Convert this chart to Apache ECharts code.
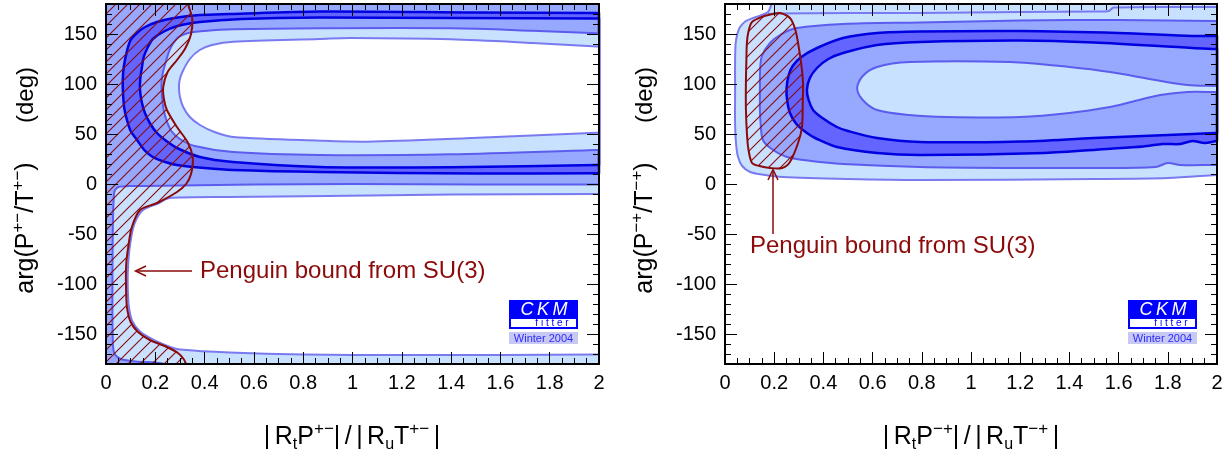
<!DOCTYPE html>
<html><head><meta charset="utf-8"><title>CKMfitter penguin bound</title>
<script src="https://cdn.jsdelivr.net/npm/echarts@6/dist/echarts.min.js"></script>
<style>html,body{margin:0;padding:0;background:#fff;}#chart{width:1226px;height:457px;}</style>
</head><body><div id="chart"></div>
<script>
// ---------------- data ----------------
const xMin = 0, xMax = 2, xStep = 0.2;
const yTickCats = ['-180','-170','-160','-150','-140','-130','-120','-110','-100','-90','-80','-70','-60','-50','-40','-30','-20','-10','0','10','20','30','40','50','60','70','80','90','100','110','120','130','140','150','160','170','180'];
const yLabeled = ['-150','-100','-50','0','50','100','150'];

// Left panel (P+-/T+-): nested confidence-level contours [x, deg]
const leftFull = [[0,180],[2,180],[2,-180],[0,-180]];
const leftWhiteLower = [[2,-10],[1.4,-10.5],[0.9,-12],[0.5,-13],[0.3,-13.5],[0.25,-14.5],[0.215,-19],[0.15,-26],[0.115,-40],[0.098,-60],[0.09,-80],[0.088,-100],[0.093,-123],[0.108,-138],[0.14,-148],[0.18,-154],[0.22,-159],[0.26,-163],[0.3,-165.5],[0.5,-168.5],[0.8,-170.5],[1.2,-171],[1.6,-171],[2,-170.5]];
const leftMedOuter = [[0,180],[2,180],[2,-0.5],[1.5,-0.5],[1.0,0],[0.6,-0.5],[0.3,-1.5],[0.1,-2],[0.05,-3],[0.035,-7],[0.03,-20],[0.027,-60],[0.026,-120],[0.028,-160],[0.035,-170],[0.06,-175],[0.12,-177.5],[0.2,-178.5],[0.24,-180],[0,-180]];
const leftDarkOuter = [[2,171],[1.5,171.5],[0.868,172.5],[0.5,170],[0.381,169],[0.29,166.5],[0.207,162],[0.155,156.5],[0.126,151],[0.1,144],[0.085,133],[0.072,117],[0.068,104],[0.069,91],[0.074,76],[0.085,64],[0.1,53],[0.126,44],[0.155,34],[0.19,27],[0.24,22],[0.288,19],[0.4,16],[0.515,14],[0.868,12],[1.5,10.5],[2,10.7]];
const leftDarkInner = [[2,165.5],[1.4,166],[0.868,166.5],[0.55,165],[0.381,162],[0.29,158],[0.231,152],[0.19,145],[0.17,137],[0.153,127],[0.146,117],[0.139,105],[0.138,94],[0.145,82],[0.158,71],[0.18,60],[0.207,51],[0.245,43],[0.288,36],[0.381,27],[0.515,22],[0.868,17],[1.4,16.7],[2,19]];
const leftMedInner = [[2,150.7],[1.73,153.3],[1.4,155.7],[0.868,155.7],[0.515,154.7],[0.4,153],[0.33,150.7],[0.29,146],[0.26,135],[0.24,120],[0.228,108],[0.225,97],[0.228,85],[0.234,74],[0.245,64],[0.265,53],[0.3,45],[0.36,38],[0.515,32],[0.868,29],[1.4,29.7],[2,34]];
const leftHole = [[2,137.3],[1.73,141],[1.4,144.7],[0.99,146],[0.868,145],[0.517,142.3],[0.43,139],[0.38,134],[0.34,125],[0.308,111],[0.298,103],[0.296,96],[0.3,87],[0.313,77],[0.34,67],[0.381,59],[0.44,52],[0.517,47],[0.868,43.3],[1.06,42.3],[1.46,45.7],[2,51.3]];
const leftPenguin = [[0,180],[0.333,180],[0.35,165],[0.345,150],[0.32,135],[0.288,124],[0.25,112],[0.232,97],[0.235,85],[0.247,74],[0.288,57],[0.333,41],[0.352,26],[0.345,10],[0.325,0],[0.288,-8],[0.207,-19],[0.138,-26],[0.105,-43],[0.092,-60],[0.082,-80],[0.081,-100],[0.085,-123],[0.1,-138],[0.13,-148],[0.178,-156],[0.247,-163],[0.292,-169],[0.315,-175],[0.325,-180],[0,-180]];

// Right panel (P-+/T-+)
const rightLightOuter = [[0.041,95],[0.041,120],[0.043,140],[0.05,150],[0.061,157],[0.085,163],[0.114,166],[0.15,169],[0.175,172],[0.19,180],[2,180],[2,9],[1.8,6],[1.5,5],[0.793,4],[0.5,5],[0.236,7],[0.15,9.5],[0.102,12],[0.07,18],[0.053,27],[0.045,40],[0.041,60]];
const rightTopLine = [[0.175,170],[0.211,170.5],[0.5,171],[0.793,171],[1.2,172],[1.5,172.5],[1.56,173],[1.58,176.5],[2,177]];
const rightMedOuter = [[0.142,95],[0.143,115],[0.15,128],[0.183,141],[0.23,150],[0.293,156],[0.48,160],[0.793,161.5],[1.2,163.5],[1.6,164],[2,163],[2,19],[1.85,19],[1.8,21],[1.75,17],[1.5,16],[1.2,16],[0.793,17],[0.48,20],[0.35,23],[0.252,27],[0.19,35],[0.154,44],[0.145,60],[0.142,75]];
const rightDarkOuter = [[0.25,95],[0.258,108],[0.275,118],[0.31,127],[0.374,136],[0.48,146],[0.618,151],[0.793,152.5],[1.2,153],[1.6,151],[1.9,148],[2,148],[2,43],[1.95,41],[1.9,43],[1.85,40],[1.78,40],[1.7,37.5],[1.55,35],[1.3,31],[0.793,29],[0.618,31],[0.455,37],[0.374,45],[0.333,51],[0.29,60],[0.264,71],[0.253,83]];
const rightDarkInner = [[0.333,94],[0.345,106],[0.374,116],[0.42,125],[0.48,131],[0.618,139],[0.793,142],[1.2,143.5],[1.5,141.5],[1.9,136],[2,135],[2,51],[1.9,50],[1.5,46],[1.2,42.5],[0.793,42],[0.618,46],[0.5,53],[0.455,57],[0.39,67],[0.358,74],[0.34,84]];
const rightLightInner = [[0.537,96],[0.56,108],[0.618,117],[0.75,122],[1.16,122],[1.4,117],[1.565,112],[1.75,104],[1.88,99],[2,98],[2,92],[1.88,92],[1.77,89],[1.65,82],[1.565,77],[1.4,71],[1.2,67],[0.9,67],[0.75,69],[0.618,74],[0.56,84]];
const rightPenguin = [[0.11,162],[0.16,168],[0.195,170],[0.224,171],[0.264,166],[0.285,155],[0.297,141],[0.31,120],[0.317,101],[0.316,80],[0.313,57],[0.297,41],[0.264,22],[0.232,16],[0.183,16],[0.14,18],[0.11,21],[0.095,35],[0.089,51],[0.085,75],[0.085,101],[0.087,125],[0.089,141],[0.095,152]];

const annotationText = 'Penguin bound from SU(3)';

// ---------------- styles ----------------
const FONT = '"Liberation Sans", Arial, Helvetica, sans-serif';
const LIGHT = '#c8e1ff', MED = '#97a9ff', DARK = '#6464ff';
const LINE_L = '#7a7af0', LINE_M = '#5c5cee', LINE_D = '#0000e0';
const RED = '#8b0a0a';

function makeHatch() {
  const c = document.createElement('canvas');
  c.width = 12; c.height = 12;
  const g = c.getContext('2d');
  g.strokeStyle = RED; g.lineWidth = 1.1;
  g.beginPath();
  g.moveTo(0, 12); g.lineTo(12, 0);
  g.moveTo(-6, 6); g.lineTo(6, -6);
  g.moveTo(6, 18); g.lineTo(18, 6);
  g.stroke();
  return c;
}
const HATCH = { image: makeHatch(), repeat: 'repeat' };

const leftLayers = [
  { pts: leftFull, fill: LIGHT, stroke: null, lw: 0, smooth: 0 },
  { pts: leftWhiteLower, fill: '#ffffff', stroke: LINE_L, lw: 2, smooth: 0.3 },
  { pts: leftMedOuter, fill: MED, stroke: LINE_M, lw: 2, smooth: 0.25 },
  { pts: leftDarkOuter, fill: DARK, stroke: LINE_D, lw: 2.5, smooth: 0.3 },
  { pts: leftDarkInner, fill: MED, stroke: LINE_D, lw: 2.5, smooth: 0.3 },
  { pts: leftMedInner, fill: LIGHT, stroke: LINE_M, lw: 2, smooth: 0.3 },
  { pts: leftHole, fill: '#ffffff', stroke: LINE_L, lw: 2, smooth: 0.3 },
  { pts: leftPenguin, fill: HATCH, stroke: RED, lw: 2, smooth: 0.3 }
];
const rightLayers = [
  { pts: rightLightOuter, fill: LIGHT, stroke: LINE_L, lw: 2, smooth: 0.3 },
  { pts: rightTopLine, fill: null, stroke: LINE_L, lw: 2, smooth: 0.3, open: true },
  { pts: rightMedOuter, fill: MED, stroke: LINE_M, lw: 2, smooth: 0.3 },
  { pts: rightDarkOuter, fill: DARK, stroke: LINE_D, lw: 2.5, smooth: 0.3 },
  { pts: rightDarkInner, fill: MED, stroke: LINE_D, lw: 2.5, smooth: 0.3 },
  { pts: rightLightInner, fill: LIGHT, stroke: LINE_M, lw: 2, smooth: 0.3 },
  { pts: rightPenguin, fill: HATCH, stroke: RED, lw: 2, smooth: 0.3 }
];

// keep bezier smoothing from bulging at the plot frame: add tiny guard vertices next to frame vertices
function guardFrame(pts, cs, closed) {
  const eps = 0.6;
  const edges = p => ({
    L: Math.abs(p[0] - cs.x) < eps, R: Math.abs(p[0] - (cs.x + cs.width)) < eps,
    T: Math.abs(p[1] - cs.y) < eps, B: Math.abs(p[1] - (cs.y + cs.height)) < eps
  });
  const onFrame = e => e.L || e.R || e.T || e.B;
  const toward = (p, q) => {
    const d = Math.hypot(q[0] - p[0], q[1] - p[1]);
    const t = d > 0 ? Math.min(0.3, 2 / d) : 0;
    return [p[0] + (q[0] - p[0]) * t, p[1] + (q[1] - p[1]) * t];
  };
  const n = pts.length, out = [];
  for (let i = 0; i < n; i++) {
    const p = pts[i];
    if (!onFrame(edges(p))) { out.push(p); continue; }
    const hasPrev = closed || i > 0, hasNext = closed || i < n - 1;
    if (hasPrev) out.push(toward(p, pts[(i - 1 + n) % n]));
    out.push(p);
    if (hasNext) out.push(toward(p, pts[(i + 1) % n]));
  }
  return out;
}

function contourSeries(layers, xIdx, yIdx) {
  return {
    type: 'custom', xAxisIndex: xIdx, yAxisIndex: yIdx, silent: true, animation: false,
    data: layers.map(() => [0, 0]),
    renderItem: function (params, api) {
      const L = layers[params.dataIndex];
      const cs = params.coordSys;
      const pts = guardFrame(L.pts.map(p => api.coord(p)), cs, !L.open);
      return {
        type: L.open ? 'polyline' : 'polygon', z2: params.dataIndex,
        shape: { points: pts, smooth: L.smooth, smoothConstraint: [[cs.x, cs.y], [cs.x + cs.width, cs.y + cs.height]] },
        style: { fill: L.fill, stroke: L.stroke, lineWidth: L.lw, lineJoin: 'round' }
      };
    }
  };
}

const majorFn = (i, v) => yLabeled.indexOf(v) >= 0;
function xAxes(g) {
  const base = {
    gridIndex: g, type: 'value', min: xMin, max: xMax, interval: xStep, z: 10,
    axisLine: { onZero: false, lineStyle: { color: '#000', width: 2 } },
    axisTick: { inside: true, length: 12, lineStyle: { color: '#000', width: 1 } },
    minorTick: { show: true, splitNumber: 4, length: 6, lineStyle: { color: '#000', width: 1 } },
    splitLine: { show: false }, minorSplitLine: { show: false }
  };
  return [
    Object.assign({}, base, { position: 'bottom', axisLabel: { fontSize: 20, color: '#000', margin: 9, fontFamily: FONT } }),
    Object.assign({}, base, { position: 'top', axisLabel: { show: false } })
  ];
}
function yAxes(g) {
  const cat = (pos, major, labels) => ({
    gridIndex: g, type: 'category', data: yTickCats, boundaryGap: false, position: pos, z: 10,
    axisLine: { show: major, onZero: false, lineStyle: { color: '#000', width: 2 } },
    axisTick: { inside: true, length: major ? 12 : 6, interval: major ? majorFn : 0, lineStyle: { color: '#000', width: 1 } },
    axisLabel: labels ? { interval: majorFn, fontSize: 20, color: '#000', margin: 9, fontFamily: FONT } : { show: false },
    splitLine: { show: false }
  });
  return [
    { gridIndex: g, type: 'value', min: -180, max: 180, show: false, axisLine: { onZero: false } },
    cat('left', true, true), cat('left', false, false), cat('right', true, false), cat('right', false, false)
  ];
}

// ---------------- titles / annotations ----------------
const richBase = {
  b: { fontSize: 25, fontFamily: FONT, color: '#000', lineHeight: 32 },
  s: { fontSize: 17, fontFamily: FONT, color: '#000', lineHeight: 18, verticalAlign: 'top' },
  d: { fontSize: 16, fontFamily: FONT, color: '#000', lineHeight: 14, verticalAlign: 'bottom' },
  sp: { fontSize: 16, fontFamily: FONT, lineHeight: 32 }
};
function yTitle(cx, sup) {
  return [
    { type: 'text', x: cx, y: 228, rotation: Math.PI / 2, z: 20,
      style: { text: '{b|arg(P}{s|' + sup + '}{b|/T}{s|' + sup + '}{b|)}', rich: richBase, align: 'center', verticalAlign: 'middle', textAlign: 'center', textVerticalAlign: 'middle' } },
    { type: 'text', x: cx, y: 95, rotation: Math.PI / 2, z: 20,
      style: { text: '(deg)', font: '24px ' + FONT, fill: '#000', align: 'center', verticalAlign: 'middle', textAlign: 'center', textVerticalAlign: 'middle' } }
  ];
}
function xTitle(cx, sup) {
  return { type: 'text', x: cx, y: 437, z: 20,
    style: { text: '{b||}{sp| }{b|R}{d|t}{b|P}{s|' + sup + '}{b||}{sp| }{b|/}{sp| }{b||}{sp| }{b|R}{d|u}{b|T}{s|' + sup + '}{sp| }{b||}',
      rich: richBase, align: 'center', verticalAlign: 'middle', textAlign: 'center', textVerticalAlign: 'middle' } };
}
function logo(x0) {
  return [
    { type: 'rect', shape: { x: x0, y: 300, width: 69, height: 18 }, style: { fill: '#0000ff' }, z: 20 },
    { type: 'text', x: x0 + 35, y: 309.5, z: 21, style: { text: 'C\u2009K\u2009M', font: 'italic 18px ' + FONT, fill: '#fff', align: 'center', verticalAlign: 'middle', textAlign: 'center', textVerticalAlign: 'middle' } },
    { type: 'rect', shape: { x: x0 + 1, y: 318, width: 67, height: 10 }, style: { fill: '#fff', stroke: '#0000ff', lineWidth: 2 }, z: 20 },
    { type: 'text', x: x0 + 43, y: 323.5, z: 21, style: { text: 'f i t t e r', font: '10px ' + FONT, fill: '#0000ff', align: 'center', verticalAlign: 'middle', textAlign: 'center', textVerticalAlign: 'middle' } },
    { type: 'rect', shape: { x: x0, y: 332, width: 69, height: 12 }, style: { fill: '#c8c8f4' }, z: 20 },
    { type: 'text', x: x0 + 34.5, y: 338.5, z: 21, style: { text: 'Winter 2004', font: '11px ' + FONT, fill: '#2b2bff', align: 'center', verticalAlign: 'middle', textAlign: 'center', textVerticalAlign: 'middle' } }
  ];
}
const graphics = [].concat(
  yTitle(26, '+\u2212'), yTitle(645, '\u2212+'),
  [xTitle(352, '+\u2212'), xTitle(971, '\u2212+')],
  logo(509), logo(1128),
  [
    { type: 'line', shape: { x1: 192, y1: 271, x2: 136, y2: 271 }, style: { stroke: RED, lineWidth: 1.5 }, z: 20 },
    { type: 'polyline', shape: { points: [[146, 266], [135.5, 271], [146, 276]] }, style: { stroke: RED, lineWidth: 1.5, fill: null }, z: 20 },
    { type: 'text', x: 200, y: 271, z: 20, style: { text: annotationText, font: '24px ' + FONT, fill: RED, align: 'left', verticalAlign: 'middle', textAlign: 'left', textVerticalAlign: 'middle' } },
    { type: 'line', shape: { x1: 773, y1: 234, x2: 773, y2: 170 }, style: { stroke: RED, lineWidth: 1.5 }, z: 20 },
    { type: 'polyline', shape: { points: [[768, 180], [773, 169.5], [778, 180]] }, style: { stroke: RED, lineWidth: 1.5, fill: null }, z: 20 },
    { type: 'text', x: 750, y: 246, z: 20, style: { text: annotationText, font: '24px ' + FONT, fill: RED, align: 'left', verticalAlign: 'middle', textAlign: 'left', textVerticalAlign: 'middle' } }
  ]
);

const chart = echarts.init(document.getElementById('chart'), null, { renderer: 'canvas' });
chart.setOption({
  animation: false,
  backgroundColor: '#fff',
  grid: [
    { left: 106, top: 4, width: 493, height: 360 },
    { left: 725, top: 4, width: 492, height: 360 }
  ],
  xAxis: [].concat(xAxes(0), xAxes(1)),
  yAxis: [].concat(yAxes(0), yAxes(1)),
  series: [contourSeries(leftLayers, 0, 0), contourSeries(rightLayers, 2, 5)],
  graphic: graphics
});
</script></body></html>
